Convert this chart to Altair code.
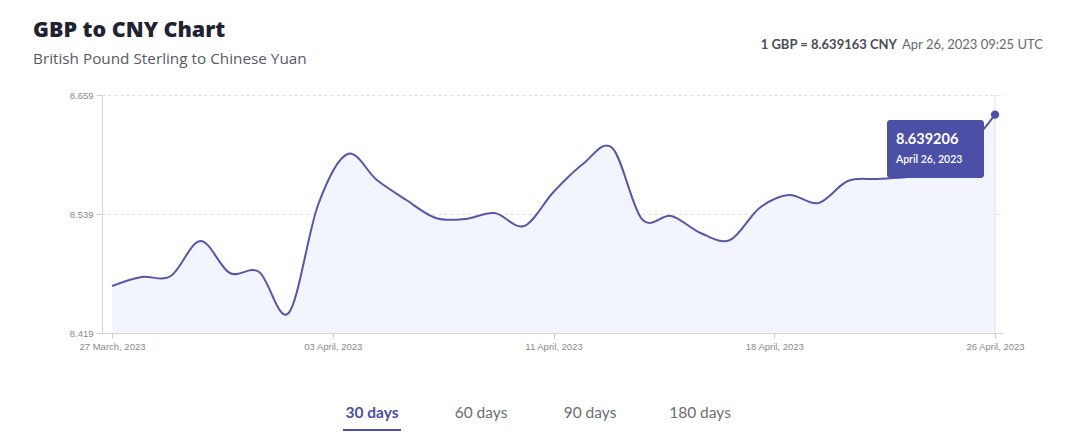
import altair as alt
import pandas as pd

# ---- data ----
dates = pd.date_range("2023-03-27", "2023-04-26", freq="D").strftime("%Y-%m-%d").tolist()
rates = [8.4664, 8.4755, 8.4765, 8.5118, 8.4795, 8.4805, 8.4392, 8.5481,
         8.5995, 8.5733, 8.5531, 8.5350, 8.5340, 8.5400, 8.5269, 8.5612,
         8.5894, 8.6056, 8.5340, 8.5370, 8.5198, 8.5128, 8.5451, 8.5582,
         8.5501, 8.5723, 8.5743, 8.5763, 8.5814, 8.6035, 8.639206]
y_ticks = [8.419, 8.539, 8.659]
tabs = ["30 days", "60 days", "90 days", "180 days"]
title_text = "GBP to CNY Chart"
subtitle_text = "British Pound Sterling to Chinese Yuan"
quote_bold = "1 GBP = 8.639163 CNY"
quote_time = "Apr 26, 2023 09:25 UTC"
tip_value = "8.639206"
tip_date = "April 26, 2023"

df = pd.DataFrame({"date": dates, "rate": rates})
last = df.tail(1)
one = pd.DataFrame({"a": [0]})

INDIGO = "#4b4fa6"
LINE = "#5856a8"
FONT = "Lato"
HFONT = "Open Sans"
AXFONT = "Liberation Sans"
INTERP = "cardinal"

x_enc = alt.X(
    "date:T",
    scale=alt.Scale(
        type="utc",
        domain=[alt.DateTime(year=2023, month=3, date=26, hours=15, minutes=51, utc=True),
                alt.DateTime(year=2023, month=4, date=26, hours=6, minutes=31, utc=True)],
    ),
    axis=alt.Axis(
        values=[alt.DateTime(year=2023, month=3, date=27, utc=True),
                alt.DateTime(year=2023, month=4, date=3, hours=12, utc=True),
                alt.DateTime(year=2023, month=4, date=11, utc=True),
                alt.DateTime(year=2023, month=4, date=18, hours=12, utc=True),
                alt.DateTime(year=2023, month=4, date=26, utc=True)],
        format="%d %B, %Y", title=None, grid=False,
        domainColor="#d6d6d6", tickColor="#cfcfcf", tickSize=5,
        labelColor="#8a8a8a", labelFont=AXFONT, labelFontSize=9.5, labelPadding=3,
        labelFlush=False,
    ),
)
y_enc = alt.Y(
    "rate:Q",
    scale=alt.Scale(domain=[8.419, 8.659], zero=False, nice=False),
    axis=alt.Axis(
        values=y_ticks, format=".3f", title=None,
        grid=True, gridColor="#dedede", gridDash=[3, 3],
        domainColor="#d6d6d6", tickColor="#cfcfcf", tickSize=6,
        labelColor="#8a8a8a", labelFont=AXFONT, labelFontSize=9.5, labelPadding=3,
    ),
)

base = alt.Chart(df)
area = base.mark_area(color="#f2f5fd", interpolate=INTERP).encode(
    x=x_enc, y=y_enc, y2=alt.datum(8.419)
)
right_rule = alt.Chart(last).mark_rule(color="#e2e2e2", strokeWidth=1).encode(
    x="date:T", y=alt.value(0), y2=alt.value(238)
)
line = base.mark_line(color=LINE, strokeWidth=2, interpolate=INTERP).encode(
    x="date:T", y="rate:Q"
)
dot = alt.Chart(last).mark_circle(color=INDIGO, size=70, opacity=1).encode(
    x="date:T", y="rate:Q"
)

tip_box = alt.Chart(one).mark_rect(color=INDIGO, cornerRadius=3).encode(
    x=alt.value(785), x2=alt.value(882), y=alt.value(25), y2=alt.value(83)
)
tip1 = alt.Chart(one).mark_text(
    text=tip_value, color="white", font=FONT, fontWeight="bold", fontSize=14.5,
    align="left", baseline="alphabetic"
).encode(x=alt.value(794), y=alt.value(49))
tip2 = alt.Chart(one).mark_text(
    text=tip_date, color="white", font=FONT, fontWeight=600, fontSize=10.5,
    align="left", baseline="alphabetic"
).encode(x=alt.value(794), y=alt.value(68))

t_title = alt.Chart(one).mark_text(
    text=title_text, color="#1f2230", font=HFONT, fontWeight=800, fontSize=21.5,
    align="left", baseline="alphabetic"
).encode(x=alt.value(-69), y=alt.value(-58))
t_sub = alt.Chart(one).mark_text(
    text=subtitle_text, color="#555a63", font=HFONT, fontSize=15.3,
    align="left", baseline="alphabetic"
).encode(x=alt.value(-69), y=alt.value(-31))
t_q1 = alt.Chart(one).mark_text(
    text=quote_bold, color="#4a4d55", font=FONT, fontWeight="bold", fontSize=13,
    align="right", baseline="alphabetic"
).encode(x=alt.value(795), y=alt.value(-46))
t_q2 = alt.Chart(one).mark_text(
    text=quote_time, color="#666a72", font=FONT, fontSize=13,
    align="right", baseline="alphabetic"
).encode(x=alt.value(941), y=alt.value(-46))

tab_x = [270, 379, 488, 598]
tab_layers = []
for i, (lbl, tx) in enumerate(zip(tabs, tab_x)):
    tab_layers.append(
        alt.Chart(one).mark_text(
            text=lbl, font=FONT, fontSize=15.5,
            fontWeight="bold" if i == 0 else "normal",
            color=INDIGO if i == 0 else "#6a6d74",
            align="center", baseline="middle",
        ).encode(x=alt.value(tx), y=alt.value(318))
    )
underline = alt.Chart(one).mark_rule(color=INDIGO, strokeWidth=2).encode(
    x=alt.value(241), x2=alt.value(299), y=alt.value(335)
)

chart = alt.layer(
    area, right_rule, line, dot, tip_box, tip1, tip2,
    t_title, t_sub, t_q1, t_q2, *tab_layers, underline
).properties(
    width=901, height=238,
    autosize=alt.AutoSizeParams(type="none"),
    padding={"left": 94, "top": 87, "right": 69, "bottom": 107},
    background="white",
).configure_view(stroke=None)

chart.save("out.html", embed_options={"renderer": "svg", "actions": False})
